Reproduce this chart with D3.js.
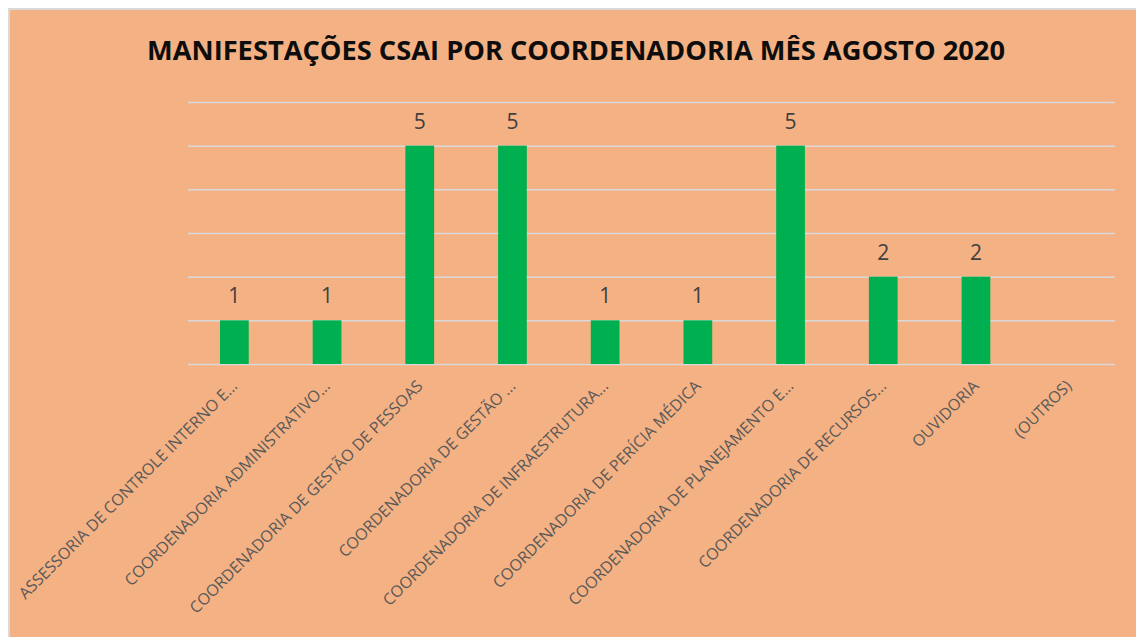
<!DOCTYPE html>
<html>
<head>
<meta charset="utf-8">
<script src="https://cdn.jsdelivr.net/npm/d3@7"></script>
<style>
  body { margin: 0; background: #fff; }
  svg { display: block; font-family: "Open Sans", "Noto Sans", sans-serif; }
</style>
</head>
<body>
<div id="chart"></div>
<script>
// categories as they show on the axis (Excel truncates the long ones)
var categories = [
  "ASSESSORIA DE CONTROLE INTERNO E...",
  "COORDENADORIA ADMINISTRATIVO...",
  "COORDENADORIA DE GESTÃO DE PESSOAS",
  "COORDENADORIA DE GESTÃO ...",
  "COORDENADORIA DE INFRAESTRUTURA...",
  "COORDENADORIA DE PERÍCIA MÉDICA",
  "COORDENADORIA DE PLANEJAMENTO E...",
  "COORDENADORIA DE RECURSOS...",
  "OUVIDORIA",
  "(OUTROS)"
];
var values = [1, 1, 5, 5, 1, 1, 5, 2, 2, null];
var gridTicks = [0, 1, 2, 3, 4, 5, 6];
var title = "MANIFESTAÇÕES CSAI POR COORDENADORIA MÊS AGOSTO 2020";

var W = 1136, H = 637;
var margin = { top: 102, right: 21, bottom: 273, left: 188 },
  width = W - margin.left - margin.right,
  height = H - margin.top - margin.bottom;

var svg = d3.select("#chart")
  .append("svg")
  .attr("width", W)
  .attr("height", H);

// chart frame
svg.append("rect")
  .attr("x", 9).attr("y", 9)
  .attr("width", W).attr("height", H)
  .attr("fill", "#f4b183")
  .attr("stroke", "#d9d9d9")
  .attr("stroke-width", 2);

svg.append("text")
  .attr("x", 576).attr("y", 60)
  .attr("text-anchor", "middle")
  .attr("font-size", 27)
  .attr("font-weight", "bold")
  .attr("fill", "#0d0d0d")
  .attr("textLength", 858)
  .attr("lengthAdjust", "spacingAndGlyphs")
  .text(title);

var g = svg.append("g")
  .attr("transform", "translate(" + margin.left + "," + margin.top + ")");

var x = d3.scaleBand()
  .domain(categories)
  .range([0, width])
  .padding(0);

var y = d3.scaleLinear()
  .domain([0, 6])
  .range([height, 0]);

// gridlines
var grid = g.append("g")
  .call(d3.axisLeft(y).tickValues(gridTicks).tickSize(-width).tickFormat(""));
grid.select(".domain").remove();
grid.selectAll("line")
  .attr("stroke", "#d9d9d9")
  .attr("stroke-width", 1.5);

// x axis labels
var xa = g.append("g")
  .attr("transform", "translate(0," + height + ")")
  .call(d3.axisBottom(x).tickSize(0))
  .attr("font-family", null)
  .attr("font-size", 16);
xa.select(".domain").remove();
xa.selectAll("text")
  .attr("x", 0).attr("y", 0).attr("dy", 0)
  .attr("transform", "translate(4,23)rotate(-45)")
  .style("text-anchor", "end")
  .attr("fill", "#595959");

var barW = x.bandwidth() * 0.31;
var data = categories.map(function (c, i) { return { cat: c, v: values[i] }; })
  .filter(function (d) { return d.v != null; });

g.selectAll(".bar")
  .data(data)
  .enter()
  .append("rect")
  .attr("x", function (d) { return x(d.cat) + x.bandwidth() / 2 - barW / 2; })
  .attr("y", function (d) { return y(d.v); })
  .attr("width", barW)
  .attr("height", function (d) { return height - y(d.v); })
  .attr("fill", "#00b050");

g.selectAll(".lbl")
  .data(data)
  .enter()
  .append("text")
  .attr("x", function (d) { return x(d.cat) + x.bandwidth() / 2; })
  .attr("y", function (d) { return y(d.v) - 17; })
  .attr("text-anchor", "middle")
  .attr("font-size", 21)
  .attr("fill", "#404040")
  .text(function (d) { return d.v; });
</script>
</body>
</html>
